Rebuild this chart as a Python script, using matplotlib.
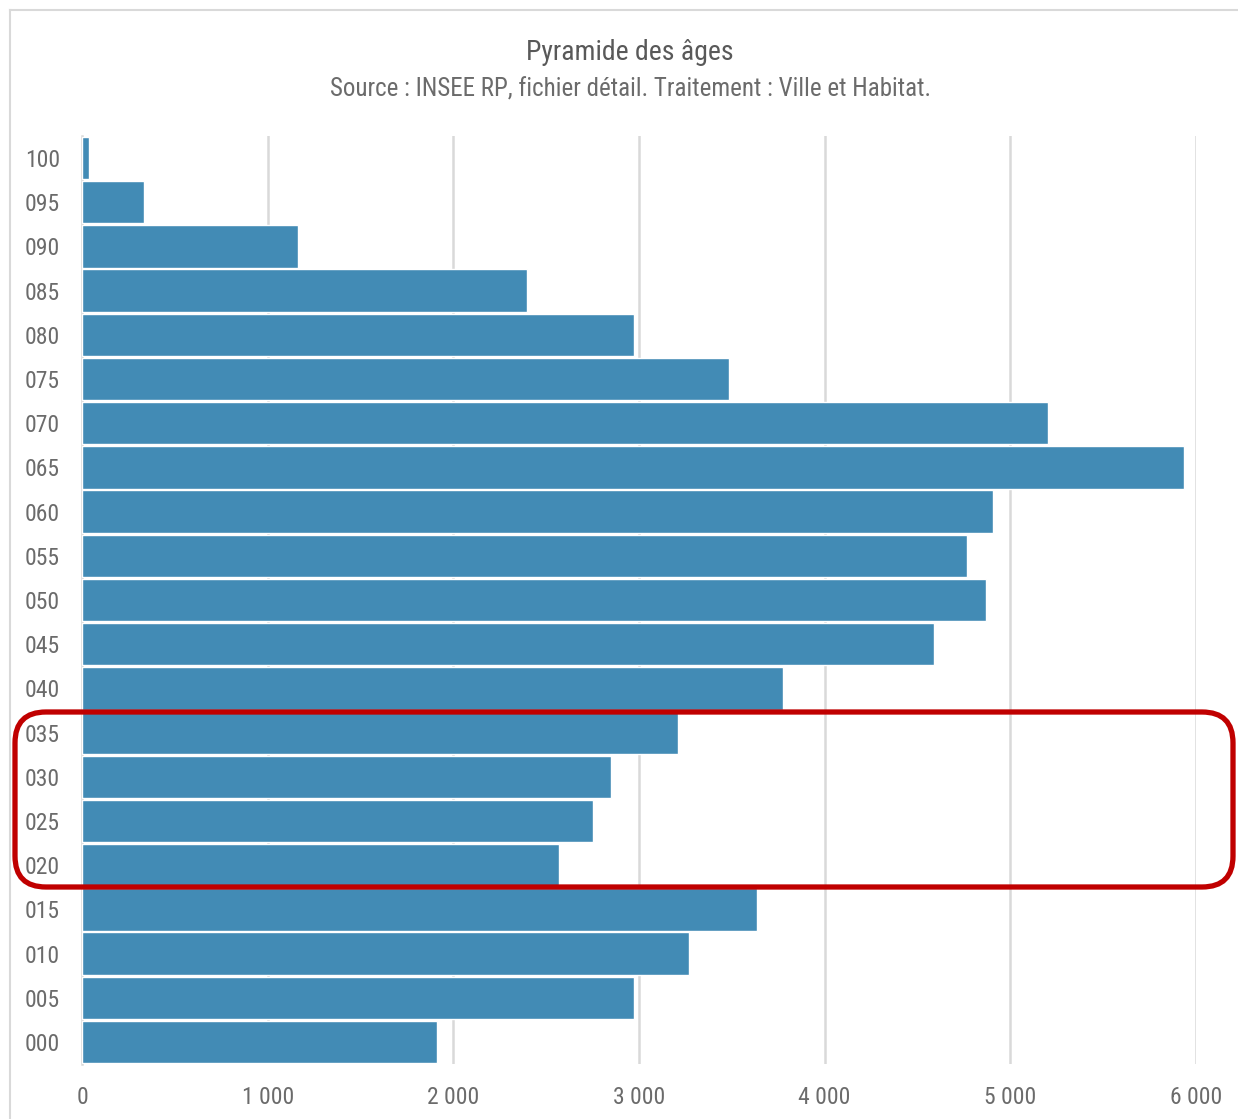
import matplotlib
matplotlib.use("Agg")
import matplotlib.pyplot as plt
from matplotlib import font_manager
from matplotlib.patches import FancyBboxPatch
from matplotlib.lines import Line2D
from matplotlib.ticker import FuncFormatter, FixedLocator

age_groups = ["000", "005", "010", "015", "020", "025", "030", "035", "040", "045",
              "050", "055", "060", "065", "070", "075", "080", "085", "090", "095", "100"]
population = [1912, 2973, 3269, 3635, 2569, 2752, 2849, 3209, 3775, 4588,
              4868, 4766, 4906, 5934, 5202, 3484, 2973, 2396, 1163, 334, 38]
x_ticks = [0, 1000, 2000, 3000, 4000, 5000, 6000]

# pick a narrow font if one is installed
fonts = [(f.name, str(f.stretch), f.fname) for f in font_manager.fontManager.ttflist]
names = {n for n, s, p in fonts}
chosen = None
for cand in ["Roboto Condensed", "Liberation Sans Narrow", "Arial Narrow", "Open Sans Condensed",
             "Noto Sans Condensed", "DejaVu Sans Condensed"]:
    if cand in names:
        chosen = cand
        break
stretch = "normal"
if chosen is None:
    for pref in ["Roboto", "Noto Sans", "DejaVu Sans", "Open Sans"]:
        if any(n == pref and s in ("condensed", "semi-condensed", "75", "87", "87.5") for n, s, p in fonts):
            chosen = pref
            stretch = "condensed"
            break
if chosen is None:
    chosen = "Roboto"
plt.rcParams['font.family'] = [chosen, 'DejaVu Sans']
plt.rcParams['font.stretch'] = stretch
narrow = chosen != "Roboto" or stretch != "normal"
scale = 1.0 if narrow else 0.88

W, H = 1238, 1119
fig = plt.figure(figsize=(W / 100, H / 100), dpi=100)
fig.patch.set_facecolor("white")

ax = fig.add_axes([82 / W, 1 - 1064 / H, (1196 - 82) / W, (1064 - 136) / H])
ypos = list(range(len(age_groups)))
ax.barh(ypos, population, height=0.96, color="#428bb5", edgecolor="white", linewidth=1.0, zorder=3)
ax.set_ylim(-0.5, len(age_groups) - 0.5)
ax.set_xlim(0, 6000)
ax.xaxis.set_major_locator(FixedLocator(x_ticks))
ax.xaxis.set_major_formatter(FuncFormatter(lambda v, p: f"{int(v):,}".replace(",", " ")))
ax.set_yticks(ypos)
ax.set_yticklabels(age_groups)
ax.grid(axis="x", color="#d9d9d9", linewidth=1.8, zorder=0)
for s in ["top", "right", "bottom"]:
    ax.spines[s].set_visible(False)
ax.spines["left"].set_color("#d9d9d9")
ax.spines["left"].set_linewidth(1.8)
ax.tick_params(axis="both", length=0, labelsize=17 * scale, colors="#6b6b6b")
ax.tick_params(axis="y", pad=16)
ax.tick_params(axis="x", pad=16)

fig.text(630 / W, 1 - 53 / H, "Pyramide des âges", ha="center", va="center", fontsize=20 * scale, color="#595959")
fig.text(630 / W, 1 - 90 / H, "Source : INSEE RP, fichier détail. Traitement : Ville et Habitat.",
         ha="center", va="center", fontsize=18 * scale, color="#6b6b6b")

# outer frame
fig.add_artist(Line2D([10 / W, 10 / W], [0, 1 - 10 / H], transform=fig.transFigure, color="#d9d9d9", lw=1.5))
fig.add_artist(Line2D([10 / W, 1], [1 - 10 / H, 1 - 10 / H], transform=fig.transFigure, color="#d9d9d9", lw=1.5))

# highlight box
x0, x1, yt, yb = 15, 1233, 712, 887
box = FancyBboxPatch((x0 / W, 1 - yb / H), (x1 - x0) / W, (yb - yt) / H,
                     boxstyle="round,pad=0,rounding_size=0.025", transform=fig.transFigure,
                     fill=False, edgecolor="#c00000", linewidth=3.8, zorder=10,
                     mutation_aspect=W / H)
fig.add_artist(box)

fig.savefig("out.png", dpi=100, facecolor="white")
